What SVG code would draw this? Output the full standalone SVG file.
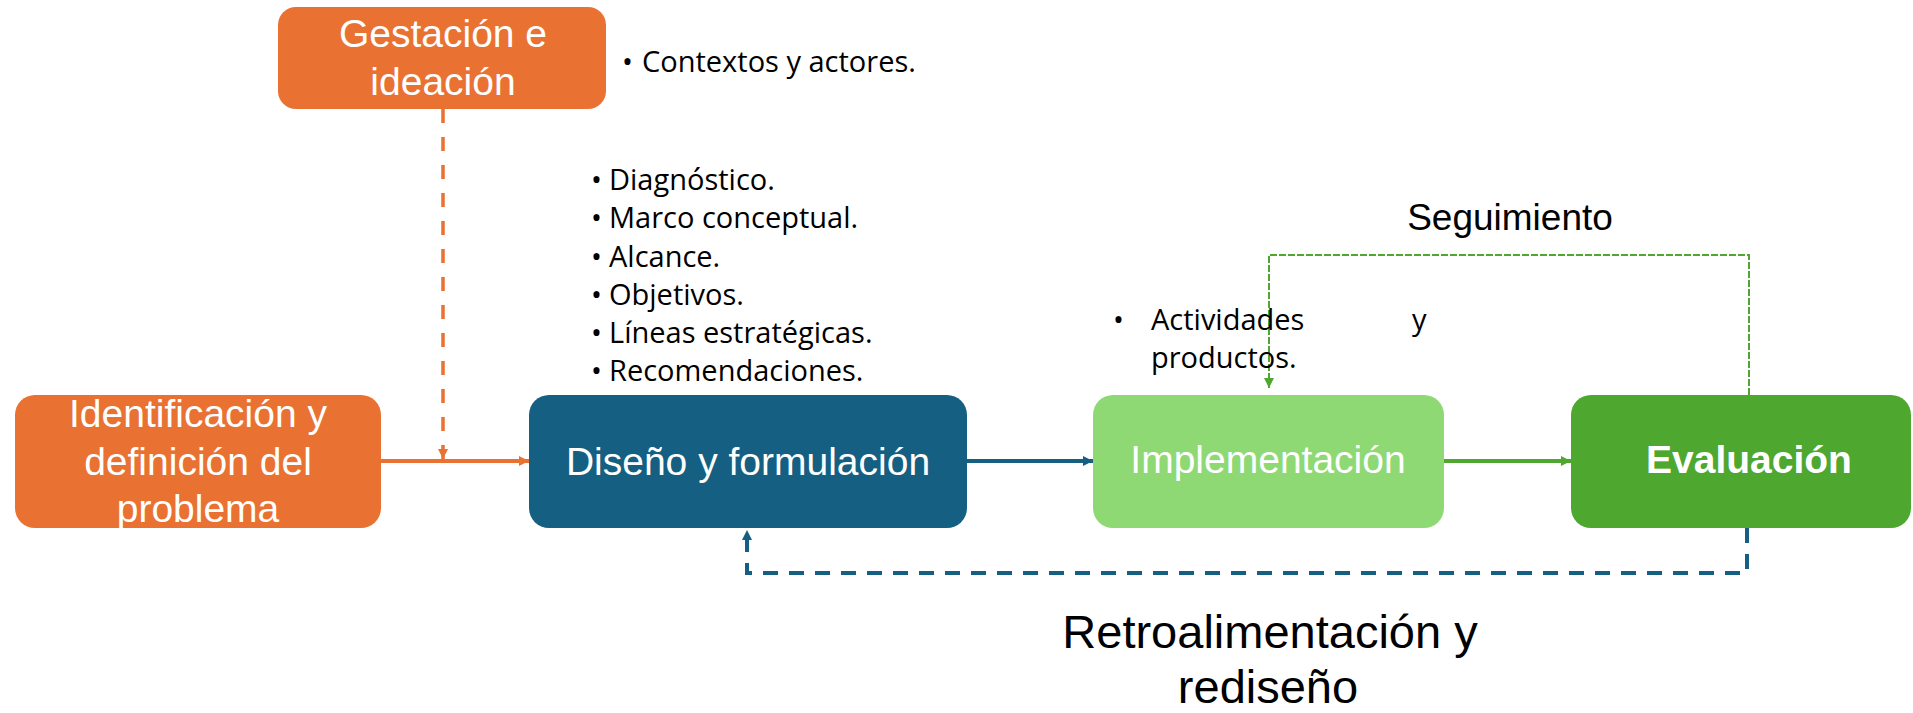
<svg xmlns="http://www.w3.org/2000/svg" width="1913" height="713" viewBox="0 0 1913 713">
  <defs>
    <style>
      .lbl { font-family: "Liberation Sans", Arial, sans-serif; fill: #ffffff; font-size: 39px; text-anchor: middle; }
      .txt { font-family: "Open Sans", "Liberation Sans", Arial, sans-serif; fill: #000000; font-size: 29px; }
      .big { font-family: "Liberation Sans", Arial, sans-serif; fill: #000000; text-anchor: middle; }
      .c { fill: none; }
    </style>
    <marker id="aO" viewBox="0 0 10 10" refX="10" refY="5" markerWidth="10" markerHeight="10" markerUnits="userSpaceOnUse" orient="auto">
      <path d="M0,0 L10,5 L0,10 z" fill="#E97132"/>
    </marker>
    <marker id="aB" viewBox="0 0 10 10" refX="10" refY="5" markerWidth="10" markerHeight="10" markerUnits="userSpaceOnUse" orient="auto">
      <path d="M0,0 L10,5 L0,10 z" fill="#156082"/>
    </marker>
    <marker id="aG" viewBox="0 0 10 10" refX="10" refY="5" markerWidth="10" markerHeight="10" markerUnits="userSpaceOnUse" orient="auto">
      <path d="M0,0 L10,5 L0,10 z" fill="#4EA72E"/>
    </marker>
  </defs>

  <g id="connectors">
    <line class="c" x1="380" y1="461" x2="529" y2="461" stroke="#E97132" stroke-width="4" marker-end="url(#aO)"/>
    <line class="c" x1="443" y1="109" x2="443" y2="459" stroke="#E97132" stroke-width="3.5" stroke-dasharray="14 14" marker-end="url(#aO)"/>
    <line class="c" x1="966" y1="461" x2="1093" y2="461" stroke="#156082" stroke-width="4" marker-end="url(#aB)"/>
    <line class="c" x1="1444" y1="461" x2="1571" y2="461" stroke="#4EA72E" stroke-width="4" marker-end="url(#aG)"/>
    <path class="c" d="M1749,395 L1749,255 L1269,255 L1269,388" stroke="#4EA72E" stroke-width="2" stroke-dasharray="7 2" marker-end="url(#aG)"/>
    <path class="c" d="M1747,528 L1747,573 L747,573 L747,530" stroke="#156082" stroke-width="4" stroke-dasharray="15 11" marker-end="url(#aB)"/>
  </g>

  <g id="gestacion">
    <rect x="278" y="7" width="328" height="102" rx="18" fill="#E97132"/>
    <text class="lbl" x="443" y="47">Gestación e</text>
    <text class="lbl" x="443" y="95">ideación</text>
  </g>

  <g id="identificacion">
    <rect x="15" y="395" width="366" height="133" rx="20" fill="#E97132"/>
    <text class="lbl" x="198" y="427">Identificación y</text>
    <text class="lbl" x="198" y="475">definición del</text>
    <text class="lbl" x="198" y="522">problema</text>
  </g>

  <g id="diseno">
    <rect x="529" y="395" width="438" height="133" rx="20" fill="#156082"/>
    <text class="lbl" x="748" y="475">Diseño y formulación</text>
  </g>

  <g id="implementacion">
    <rect x="1093" y="395" width="351" height="133" rx="20" fill="#8ED973"/>
    <text class="lbl" x="1268" y="473">Implementación</text>
  </g>

  <g id="evaluacion">
    <rect x="1571" y="395" width="340" height="133" rx="20" fill="#4EA72E"/>
    <text class="lbl" x="1749" y="473" font-weight="bold" font-size="36">Evaluación</text>
  </g>

  <g id="notes">
    <text class="txt" x="622" y="72">•</text>
    <text class="txt" x="642" y="72">Contextos y actores.</text>

    <text class="txt" x="591" y="190">•</text>
    <text class="txt" x="609" y="190">Diagnóstico.</text>
    <text class="txt" x="591" y="228">•</text>
    <text class="txt" x="609" y="228">Marco conceptual.</text>
    <text class="txt" x="591" y="267">•</text>
    <text class="txt" x="609" y="267">Alcance.</text>
    <text class="txt" x="591" y="305">•</text>
    <text class="txt" x="609" y="305">Objetivos.</text>
    <text class="txt" x="591" y="343">•</text>
    <text class="txt" x="609" y="343">Líneas estratégicas.</text>
    <text class="txt" x="591" y="381">•</text>
    <text class="txt" x="609" y="381">Recomendaciones.</text>

    <text class="txt" x="1113" y="330">•</text>
    <text class="txt" x="1151" y="330">Actividades</text>
    <text class="txt" x="1412" y="330">y</text>
    <text class="txt" x="1151" y="368">productos.</text>

    <text class="big" x="1510" y="230" font-size="37">Seguimiento</text>
    <text class="big" x="1270" y="648" font-size="47">Retroalimentación y</text>
    <text class="big" x="1268" y="703" font-size="47">rediseño</text>
  </g>
</svg>
